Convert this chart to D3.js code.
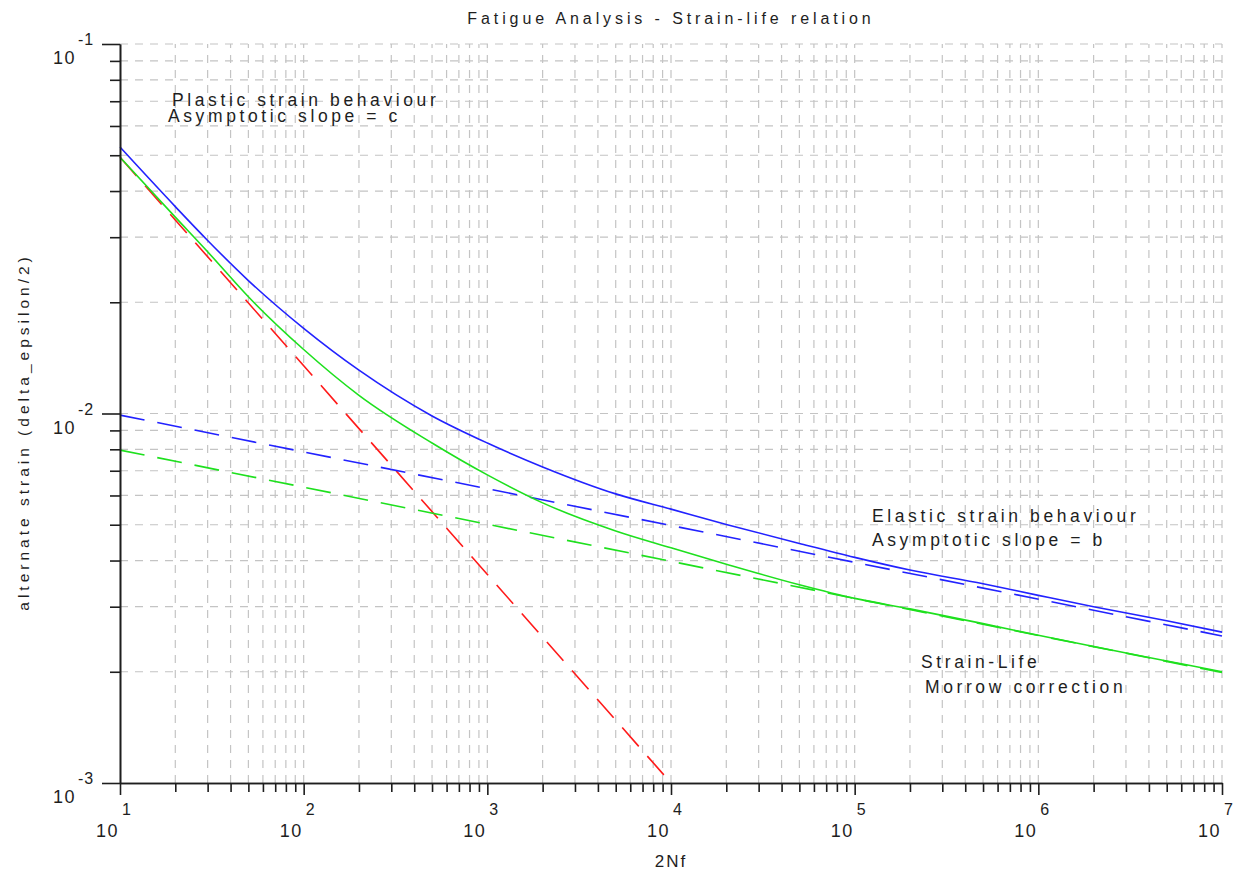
<!DOCTYPE html>
<html lang="en">
<head>
<meta charset="utf-8">
<style>
    body { margin: 0; background: #fff; }
    text { font-family: "Liberation Sans", Arial, sans-serif; fill: #1e1e1e; }
</style>
<script src="https://cdn.jsdelivr.net/npm/d3@7"></script>
</head>
<body>
<script>
    // values
    var cycles = [10, 20, 30, 50, 100, 200, 500, 1000, 2000, 5000, 1e4, 2e4, 5e4, 1e5, 2e5, 5e5, 1e6, 2e6, 5e6, 1e7];
    var strainLife = [0.0526, 0.0363, 0.0294, 0.0229, 0.0170, 0.0131, 0.00985, 0.00832, 0.00717, 0.00606, 0.00551, 0.00501,
        0.00445, 0.00408, 0.00377, 0.00346, 0.00322, 0.00300, 0.00275, 0.00256];
    var morrow = [0.0494, 0.0340, 0.0274, 0.0207, 0.0149, 0.0112, 0.00832, 0.00682, 0.00573, 0.00481, 0.00433, 0.00391,
        0.00344, 0.00316, 0.00296, 0.00270, 0.00251, 0.00234, 0.00214, 0.00200];
    var elasticCycles = [10, 1e7];
    var elasticStrainLife = [0.0099, 0.0025];
    var elasticMorrow = [0.00796, 0.00199];
    var plasticCycles = [10, 1e4];
    var plastic = [0.0494, 0.001];
    var xExps = [1, 2, 3, 4, 5, 6, 7];
    var yExps = [-1, -2, -3];

    var svgWidth = 1239, svgHeight = 872;
    var plotLeft = 120, plotRight = 1222, plotTop = 44, plotBottom = 783;

    var svg = d3.select("body").append("svg")
        .attr("width", svgWidth)
        .attr("height", svgHeight);

    var x = d3.scaleLog().domain([10, 1e7]).range([plotLeft, plotRight]);
    var y = d3.scaleLog().domain([1e-3, 1e-1]).range([plotBottom, plotTop]);

    // major + minor tick values
    var xMajor = xExps.map(function (e) { return Math.pow(10, e); });
    var yMajor = yExps.map(function (e) { return Math.pow(10, e); });
    var xMinor = [], yMinor = [];
    xExps.slice(0, -1).forEach(function (e) {
        for (var k = 2; k < 10; k++) xMinor.push(k * Math.pow(10, e));
    });
    yExps.slice(1).forEach(function (e) {
        for (var k = 2; k < 10; k++) yMinor.push(k * Math.pow(10, e));
    });

    // grid
    var grid = svg.append("g").attr("stroke", "#c4c4c4").attr("stroke-width", 1.2)
        .attr("stroke-dasharray", "8,7");
    grid.selectAll(".vg").data(xMajor.concat(xMinor).filter(function (d) { return d > 10; }))
        .enter().append("line")
        .attr("x1", function (d) { return x(d); }).attr("x2", function (d) { return x(d); })
        .attr("y1", plotBottom).attr("y2", plotTop);
    grid.selectAll(".hg").data(yMajor.concat(yMinor).filter(function (d) { return d > 1e-3; }))
        .enter().append("line")
        .attr("y1", function (d) { return y(d); }).attr("y2", function (d) { return y(d); })
        .attr("x1", plotLeft).attr("x2", plotRight);

    // curves
    var line = d3.line()
        .x(function (d) { return x(d[0]); })
        .y(function (d) { return y(d[1]); })
        .curve(d3.curveMonotoneX);

    function pairs(xs, ys) { return xs.map(function (v, i) { return [v, ys[i]]; }); }

    var series = [
        { xs: plasticCycles, ys: plastic, color: "#ff1a1a", dash: "25,13" },
        { xs: elasticCycles, ys: elasticMorrow, color: "#1ee01e", dash: "25,13" },
        { xs: elasticCycles, ys: elasticStrainLife, color: "#2222ff", dash: "25,13" },
        { xs: cycles, ys: morrow, color: "#1ee01e", dash: null },
        { xs: cycles, ys: strainLife, color: "#2222ff", dash: null }
    ];
    svg.selectAll(".curve").data(series).enter().append("path")
        .attr("fill", "none")
        .attr("stroke", function (d) { return d.color; })
        .attr("stroke-width", 1.6)
        .attr("stroke-dasharray", function (d) { return d.dash; })
        .attr("d", function (d) { return line(pairs(d.xs, d.ys)); });

    // axes
    var xAxisG = svg.append("g").attr("transform", "translate(0," + plotBottom + ")");
    xAxisG.call(d3.axisBottom(x).tickValues(xMinor).tickSize(9).tickSizeOuter(0).tickFormat(""));
    xAxisG.append("g").call(d3.axisBottom(x).tickValues(xMajor).tickSize(12).tickSizeOuter(0).tickFormat(""));
    var yAxisG = svg.append("g").attr("transform", "translate(" + plotLeft + ",0)");
    yAxisG.call(d3.axisLeft(y).tickValues(yMinor).tickSize(10).tickSizeOuter(0).tickFormat(""));
    yAxisG.append("g").call(d3.axisLeft(y).tickValues(yMajor).tickSize(18).tickSizeOuter(0).tickFormat(""));
    svg.selectAll(".domain, .tick line").attr("stroke", "#1e1e1e").attr("stroke-width", 1.6);

    // tick labels: 10 with exponent
    xExps.forEach(function (e) {
        var px = x(Math.pow(10, e));
        svg.append("text").attr("x", px - 1).attr("y", 837).attr("text-anchor", "end")
            .attr("font-size", 18).attr("letter-spacing", 1.5).text("10");
        svg.append("text").attr("x", px + 2).attr("y", 815)
            .attr("font-size", 16).text(e);
    });
    yExps.forEach(function (e) {
        var py = y(Math.pow(10, e));
        svg.append("text").attr("x", 76).attr("y", py + 20).attr("text-anchor", "end")
            .attr("font-size", 18).attr("letter-spacing", 1.5).text("10");
        svg.append("text").attr("x", 78).attr("y", py + 1)
            .attr("font-size", 16).attr("letter-spacing", 1).text(e);
    });

    // titles
    svg.append("text").attr("x", (plotLeft + plotRight) / 2).attr("y", 24).attr("text-anchor", "middle")
        .attr("font-size", 16).attr("letter-spacing", 3.9).text("Fatigue Analysis - Strain-life relation");
    svg.append("text").attr("x", (plotLeft + plotRight) / 2).attr("y", 867).attr("text-anchor", "middle")
        .attr("font-size", 17).attr("letter-spacing", 2).text("2Nf");
    svg.append("text").attr("transform", "translate(29,432) rotate(-90)").attr("text-anchor", "middle")
        .attr("font-size", 15.5).attr("letter-spacing", 4).text("alternate strain (delta_epsilon/2)");

    // annotations
    var notes = [
        { t: "Plastic strain behaviour", x: 172, y: 106 },
        { t: "Asymptotic slope = c", x: 168, y: 122 },
        { t: "Elastic strain behaviour", x: 872, y: 522 },
        { t: "Asymptotic slope = b", x: 872, y: 546 },
        { t: "Strain-Life", x: 921, y: 668 },
        { t: "Morrow correction", x: 925, y: 693 }
    ];
    svg.selectAll(".note").data(notes).enter().append("text")
        .attr("x", function (d) { return d.x; })
        .attr("y", function (d) { return d.y; })
        .attr("font-size", 17.5).attr("letter-spacing", 3.6)
        .text(function (d) { return d.t; });
</script>
</body>
</html>
